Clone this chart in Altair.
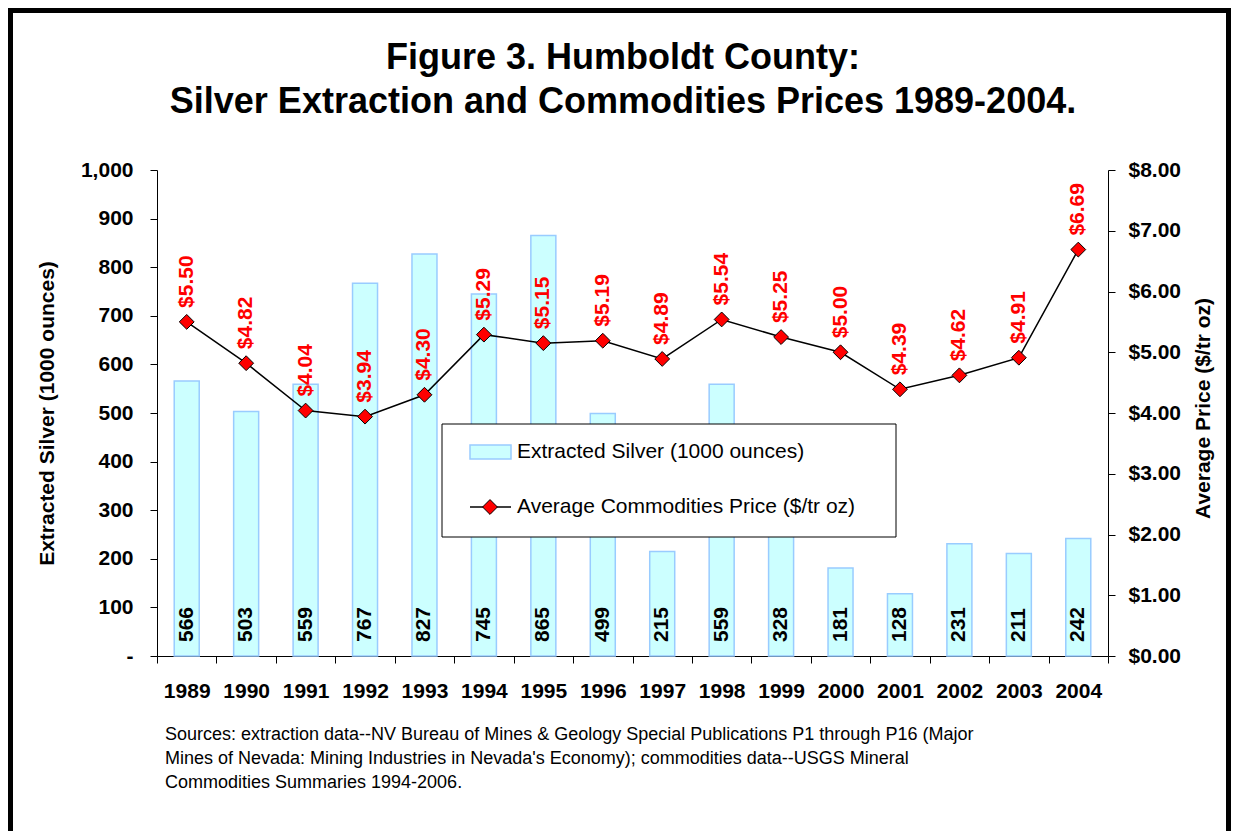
import altair as alt
import pandas as pd

years = ["1989", "1990", "1991", "1992", "1993", "1994", "1995", "1996",
         "1997", "1998", "1999", "2000", "2001", "2002", "2003", "2004"]
silver = [566, 503, 559, 767, 827, 745, 865, 499, 215, 559, 328, 181, 128, 231, 211, 242]
price = [5.50, 4.82, 4.04, 3.94, 4.30, 5.29, 5.15, 5.19, 4.89, 5.54, 5.25, 5.00, 4.39, 4.62, 4.91, 6.69]

title_lines = ["Figure 3. Humboldt County:", "Silver Extraction and Commodities Prices 1989-2004."]
legend_labels = ["Extracted Silver (1000 ounces)", "Average Commodities Price ($/tr oz)"]
source_lines = [
    "Sources: extraction data--NV Bureau of Mines & Geology Special Publications P1 through P16 (Major",
    "Mines of Nevada: Mining Industries in Nevada's Economy); commodities data--USGS Mineral",
    "Commodities Summaries 1994-2006.",
]

df = pd.DataFrame({"year": years, "silver": silver, "price": price})
one = pd.DataFrame({"a": [0]})

FONT = "Liberation Sans"
W, H = 951, 486

xenc = alt.X("year:N", sort=years, title=None,
             scale=alt.Scale(paddingInner=0, paddingOuter=0),
             axis=alt.Axis(labelAngle=0, tickBand="extent", tickSize=7,
                           labelPadding=17, labelFontSize=21, labelFontWeight="bold",
                           labelFont=FONT, domainColor="black", tickColor="black",
                           labelColor="black"))

base = alt.Chart(df).encode(x=xenc)

left_scale = alt.Scale(domain=[0, 1000], nice=False)
left_axis = alt.Axis(values=list(range(0, 1001, 100)),
                     labelExpr="datum.value == 0 ? '-' : format(datum.value, ',')",
                     title="Extracted Silver (1000 ounces)", titleFont=FONT,
                     titleFontSize=21, titleFontWeight="bold", titleColor="black",
                     titleAngle=270, titleX=-110, titleY=243,
                     titleBaseline="middle", titleAlign="center",
                     labelFont=FONT, labelFontSize=21, labelFontWeight="bold",
                     labelColor="black", labelPadding=17, tickSize=7,
                     tickColor="black", domainColor="black", grid=False)

bars = base.mark_bar(width=25, fill="#CCFFFF", stroke="#99CCFF", strokeWidth=1.5).encode(
    y=alt.Y("silver:Q", scale=left_scale, axis=left_axis, title="Extracted Silver (1000 ounces)")
)

bar_labels = base.mark_text(angle=270, align="left", baseline="middle", dx=14,
                            font=FONT, fontSize=21, fontWeight="bold", color="black").encode(
    y=alt.YDatum(0, type="quantitative", scale=left_scale, axis=left_axis,
                 title="Extracted Silver (1000 ounces)"),
    text=alt.Text("silver:Q"),
)

left = alt.layer(bars, bar_labels)

right_scale = alt.Scale(domain=[0, 8], nice=False)
right_axis = alt.Axis(orient="right", values=list(range(0, 9)), format="$.2f",
                      title="Average Price ($/tr oz)", titleFont=FONT,
                      titleFontSize=21, titleFontWeight="bold", titleColor="black",
                      titleAngle=270, titleX=95, titleY=238,
                      titleBaseline="middle", titleAlign="center",
                      labelFont=FONT, labelFontSize=21, labelFontWeight="bold",
                      labelColor="black", labelPadding=13, tickSize=7,
                      tickColor="black", domainColor="black", grid=False)
yp = alt.Y("price:Q", scale=right_scale, axis=right_axis, title="Average Price ($/tr oz)")

line = base.mark_line(color="black", strokeWidth=1.5).encode(y=yp)
points = base.mark_point(shape="diamond", filled=True, fill="#FF0000", stroke="black",
                         strokeWidth=1, size=220, opacity=1).encode(y=yp)
price_labels = base.mark_text(angle=270, align="left", baseline="middle", dx=14,
                              font=FONT, fontSize=21, fontWeight="bold", color="#FF0000").encode(
    y=yp,
    text=alt.Text("price:Q", format="$.2f"),
)

right = alt.layer(line, points, price_labels)

ann = alt.Chart(one)

title_text = ann.mark_text(align="center", baseline="alphabetic", font=FONT, fontSize=36,
                           fontWeight="bold", color="black", lineHeight=44).encode(
    x=alt.value(466), y=alt.value(-101), text=alt.value(title_lines))

sources = ann.mark_text(align="left", baseline="alphabetic", font=FONT, fontSize=18,
                        color="black", lineHeight=24).encode(
    x=alt.value(8), y=alt.value(570), text=alt.value(source_lines))

legend_box = ann.mark_rect(fill="white", stroke="black", strokeWidth=1).encode(
    x=alt.value(285), x2=alt.value(739), y=alt.value(254), y2=alt.value(367))
legend_swatch = ann.mark_rect(fill="#CCFFFF", stroke="#99CCFF", strokeWidth=1.5).encode(
    x=alt.value(313), x2=alt.value(354), y=alt.value(275), y2=alt.value(289))
legend_line = ann.mark_rule(color="black", strokeWidth=1.5).encode(
    x=alt.value(313), x2=alt.value(354), y=alt.value(337))
legend_point = ann.mark_point(shape="diamond", filled=True, fill="#FF0000", stroke="black",
                              strokeWidth=1, size=220, opacity=1).encode(
    x=alt.value(333), y=alt.value(337))
legend_t1 = ann.mark_text(align="left", baseline="middle", font=FONT, fontSize=21,
                          color="black").encode(
    x=alt.value(360), y=alt.value(282), text=alt.value(legend_labels[0]))
legend_t2 = ann.mark_text(align="left", baseline="middle", font=FONT, fontSize=21,
                          color="black").encode(
    x=alt.value(360), y=alt.value(337), text=alt.value(legend_labels[1]))

border = ann.mark_rect(filled=False, stroke="black", strokeWidth=5).encode(
    x=alt.value(-146.5), x2=alt.value(1071.5), y=alt.value(-159.5), y2=alt.value(900))

chart = alt.layer(
    left, right,
    legend_box, legend_swatch, legend_line, legend_point, legend_t1, legend_t2,
    title_text, sources, border,
).resolve_scale(y="independent").properties(
    width=W, height=H,
    background="white",
    autosize=alt.AutoSizeParams(type="none"),
    padding={"left": 149, "top": 162, "right": 123, "bottom": 175},
).configure_view(stroke=None)

chart.save("out.html", embed_options={"renderer": "svg", "actions": False})
